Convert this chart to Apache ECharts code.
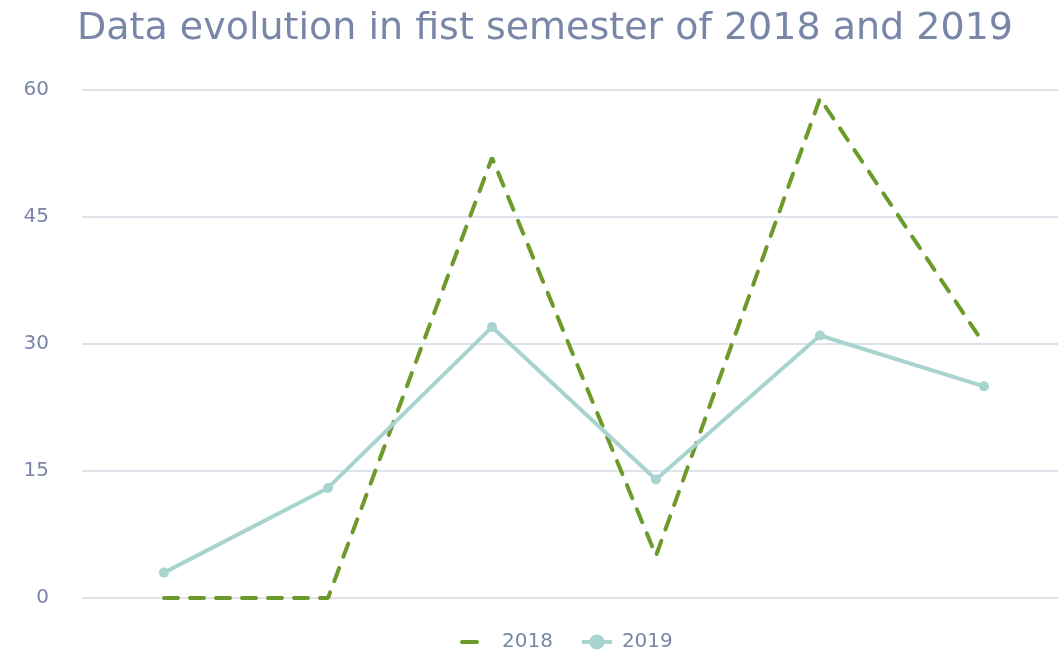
<!DOCTYPE html>
<html>
<head>
<meta charset="utf-8">
<script src="https://cdn.jsdelivr.net/npm/echarts@6/dist/echarts.min.js"></script>
<style>
  html, body { margin: 0; padding: 0; background: #fff; }
  #main { width: 1058px; height: 654px; }
</style>
</head>
<body>
<div id="main"></div>
<script>
const months = ["Jan", "Feb", "Mar", "Apr", "May", "Jun"];
const data2018 = [0, 0, 52, 5, 59, 30];
const data2019 = [3, 13, 32, 14, 31, 25];
const yTicks = [0, 15, 30, 45, 60];

const textColor = "#7a86a8";
const font = "DejaVu Sans";
const chart = echarts.init(document.getElementById("main"));
chart.setOption({
  animation: false,
  title: {
    text: "Data evolution in fist semester of 2018 and 2019",
    left: 540,
    textAlign: "center",
    top: 5,
    textStyle: { color: textColor, fontFamily: font, fontWeight: "normal", fontSize: 38 },
  },
  legend: {
    top: 627,
    left: 455,
    itemWidth: 30,
    itemHeight: 19,
    itemGap: 27,
    textStyle: { color: textColor, fontFamily: font, fontSize: 20, padding: [0, 0, 0, 5] },
    data: [
      { name: "2018", itemStyle: { opacity: 0 }, lineStyle: { type: [15, 40], width: 4 } },
      { name: "2019", lineStyle: { width: 4 } },
    ],
  },
  grid: { left: 82, width: 984, top: 90, bottom: 56, outerBoundsMode: "none" },
  xAxis: {
    type: "category",
    data: months,
    axisLine: { show: false },
    axisTick: { show: false },
    axisLabel: { show: false },
  },
  yAxis: {
    type: "value",
    min: yTicks[0],
    max: yTicks[yTicks.length - 1],
    interval: 15,
    axisLabel: { color: textColor, fontFamily: font, fontSize: 20, margin: 33 },
    splitLine: { lineStyle: { color: "#e1e3ec", width: 2 } },
  },
  series: [
    {
      name: "2018",
      type: "line",
      data: data2018,
      symbol: "none",
      itemStyle: { color: "#6c9a2b" },
      lineStyle: { color: "#6c9a2b", width: 4, type: [14, 12], cap: "round" },
    },
    {
      name: "2019",
      type: "line",
      data: data2019,
      symbol: "circle",
      symbolSize: 10,
      itemStyle: { color: "#a8d4d0" },
      lineStyle: { color: "#a8d4d0", width: 4 },
    },
  ],
});
</script>
</body>
</html>
